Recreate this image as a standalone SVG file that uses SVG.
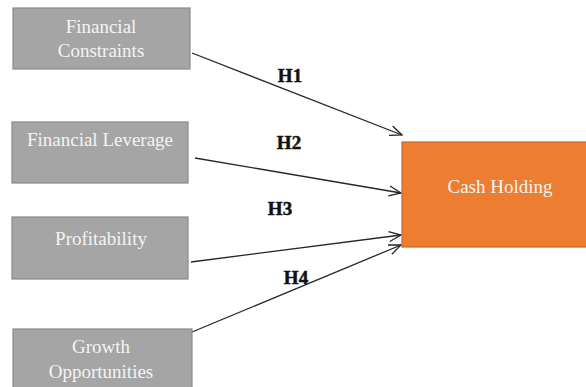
<svg xmlns="http://www.w3.org/2000/svg" width="586" height="387" viewBox="0 0 586 387">
  <defs>
    <marker id="open-arrow" viewBox="0 0 14 12" refX="13" refY="6" markerWidth="14" markerHeight="12" markerUnits="userSpaceOnUse" orient="auto">
      <path d="M1,1 L13,6 L1,11" fill="none" stroke="#262626" stroke-width="1.3"/>
    </marker>
  </defs>
  <style>
    .src { fill: #a5a5a5; stroke: #8a8a8a; stroke-width: 1.2; }
    .dst { fill: #ed7d31; stroke: #c8682a; stroke-width: 1.2; }
    .lbl { font-family: "Liberation Serif", "Times New Roman", serif; font-size: 19px; fill: #f4f4f4; text-anchor: middle; }
    .hyp { font-family: "Liberation Serif", "Times New Roman", serif; font-size: 19px; font-weight: bold; fill: #111; stroke: #111; stroke-width: 0.5; text-anchor: middle; }
    .edge { fill: none; stroke: #262626; stroke-width: 1.3; marker-end: url(#open-arrow); }
  </style>
  <rect width="586" height="387" fill="#ffffff"/>

  <g id="connectors">
    <line class="edge" x1="192" y1="53" x2="402" y2="135"/>
    <line class="edge" x1="195" y1="158" x2="401" y2="193"/>
    <line class="edge" x1="191" y1="262" x2="401" y2="235"/>
    <line class="edge" x1="192" y1="332" x2="401" y2="245"/>
    <text class="hyp" x="290" y="82">H1</text>
    <text class="hyp" x="289" y="149">H2</text>
    <text class="hyp" x="280" y="215">H3</text>
    <text class="hyp" x="296" y="284">H4</text>
  </g>

  <g id="financial-constraints">
    <rect class="src" x="13" y="8" width="177" height="61"/>
    <text class="lbl" x="101" y="33">Financial</text>
    <text class="lbl" x="101" y="57">Constraints</text>
  </g>

  <g id="financial-leverage">
    <rect class="src" x="12" y="122" width="176" height="61"/>
    <text class="lbl" x="100" y="146">Financial Leverage</text>
  </g>

  <g id="profitability">
    <rect class="src" x="12" y="217" width="176" height="62"/>
    <text class="lbl" x="101" y="245">Profitability</text>
  </g>

  <g id="growth-opportunities">
    <rect class="src" x="13" y="329" width="179" height="70"/>
    <text class="lbl" x="101" y="353">Growth</text>
    <text class="lbl" x="101" y="378">Opportunities</text>
  </g>

  <g id="cash-holding">
    <rect class="dst" x="402" y="142" width="190" height="105"/>
    <text class="lbl" x="500" y="193">Cash Holding</text>
  </g>
</svg>
